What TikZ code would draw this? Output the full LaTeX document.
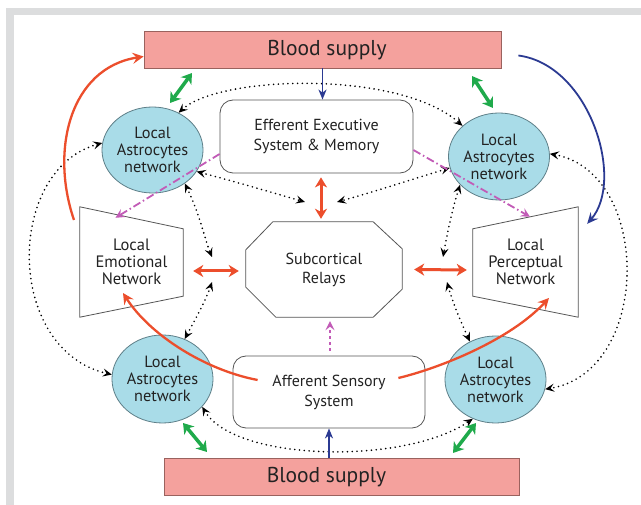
\documentclass[tikz,border=0pt]{standalone}
\usepackage{fontspec}
\setmainfont{PT Sans}
\usetikzlibrary{arrows.meta,shapes.geometric,calc}
\definecolor{framegray}{HTML}{DCDDDE}
\definecolor{salmon}{HTML}{F4A19D}
\definecolor{salmonline}{HTML}{9A625E}
\definecolor{astro}{HTML}{A9DCE8}
\definecolor{astroline}{HTML}{5E7F88}
\definecolor{boxline}{HTML}{555555}
\definecolor{redc}{HTML}{EC4E2C}
\definecolor{greenc}{HTML}{1FAA4B}
\definecolor{bluec}{HTML}{2B3A92}
\definecolor{magc}{HTML}{C25BB7}
\definecolor{txt}{HTML}{222222}
\begin{document}
\begin{tikzpicture}[x=1pt,y=-1pt,
  blood/.style={draw=salmonline,line width=0.8pt,fill=salmon,minimum height=37pt,inner sep=0pt},
  bloodtext/.style={font=\fontsize{21.5}{24}\selectfont,text=txt},
  roundbox/.style={draw=boxline,line width=0.8pt,rounded corners=13pt,fill=white,align=center,
     font=\fontsize{16}{20}\selectfont,text=txt,inner sep=0pt},
  astrocyte/.style={ellipse,draw=astroline,line width=0.8pt,fill=astro,align=center,
     font=\fontsize{16.3}{17}\selectfont,text=txt,inner sep=0pt},
  plainbox/.style={align=center,font=\fontsize{16.5}{17}\selectfont,text=txt,inner sep=0pt},
  outline/.style={draw=boxline,line width=0.8pt},
  dotarr/.style={draw=black,line width=1.8pt,dash pattern=on 0pt off 4.8pt,line cap=round,
     {Stealth[length=9pt,width=8pt,inset=3.5pt]}-{Stealth[length=9pt,width=8pt,inset=3.5pt]}},
  redbi/.style={draw=redc,line width=3pt,{Stealth[length=10pt,width=12pt,inset=3pt]}-{Stealth[length=10pt,width=12pt,inset=3pt]}},
  redcurve/.style={draw=redc,line width=2.3pt,-{Stealth[length=11pt,width=11pt,inset=4pt]}},
  greenbi/.style={draw=greenc,line width=3.5pt,{Stealth[length=10pt,width=13pt,inset=3pt]}-{Stealth[length=10pt,width=13pt,inset=3pt]}},
  bluearr/.style={draw=bluec,line width=1.4pt,-{Stealth[length=10pt,width=8pt,inset=3pt]}},
  bluecurve/.style={draw=bluec,line width=1.8pt,-{Stealth[length=11pt,width=10pt,inset=4pt]}},
  magarr/.style={draw=magc,line width=1.8pt,dash pattern=on 8pt off 3pt on 1.5pt off 3pt,
     -{Stealth[length=9pt,width=9pt,inset=3.5pt]}},
  magdot/.style={draw=magc,line width=1.8pt,dash pattern=on 3pt off 3pt,
     -{Stealth[length=9pt,width=9pt,inset=3.5pt]}}
]
\useasboundingbox (0,0) rectangle (641,505);
\fill[framegray] (6,8) rectangle (641,505);
\fill[white] (14,15) rectangle (641,505);

% blood supply
\node[blood,minimum width=357pt] (bt) at (322.5,49.5) {};
\node[bloodtext] (btt) at (327,50) {Blood supply};
\node[blood,minimum width=355pt] (bb) at (341.5,476.5) {};
\node[bloodtext] (bbt) at (326.5,477.5) {Blood supply};

% boxes
\node[roundbox,minimum width=193pt,minimum height=73pt] (eff) at (316.5,136.5) {Efferent Executive\\System \& Memory};
\node[roundbox,minimum width=192pt,minimum height=72pt] (aff) at (329,392) {Afferent Sensory\\System};

% subcortical octagon
\node[plainbox,minimum width=156pt,minimum height=95pt,font=\fontsize{16}{19}\selectfont] (sub) at (324,269.5) {Subcortical\\Relays};
\draw[outline] ([xshift=27pt]sub.north west) -- ([xshift=-29pt]sub.north east)
  -- ([yshift=-27pt]sub.north east) -- ([yshift=28pt]sub.south east)
  -- ([xshift=-29pt]sub.south east) -- ([xshift=30pt]sub.south west)
  -- ([yshift=30pt]sub.south west) -- ([yshift=-28pt]sub.north west) -- cycle;

% trapezoids
\node[plainbox,minimum width=103pt,minimum height=110pt] (emo) at (131.5,262) {Local\\Emotional\\Network};
\draw[outline] (emo.north west) -- ([yshift=-22pt]emo.north east) -- ([yshift=21pt]emo.south east) -- (emo.south west) -- cycle;
\node[plainbox,minimum width=105pt,minimum height=110pt] (per) at (525.5,262) {Local\\Perceptual\\Network};
\draw[outline] ([yshift=-22pt]per.north west) -- (per.north east) -- (per.south east) -- ([yshift=21pt]per.south west) -- cycle;

% astrocytes
\node[astrocyte,minimum width=97pt,minimum height=86pt] (atl) at (152.5,150) {Local\\Astrocytes\\network};
\node[astrocyte,minimum width=96pt,minimum height=87pt] (atr) at (499,156.5) {Local\\Astrocytes\\network};
\node[astrocyte,minimum width=95pt,minimum height=88pt] (abl) at (162.5,379) {Local\\Astrocytes\\network};
\node[astrocyte,minimum width=95pt,minimum height=87pt] (abr) at (495.5,379.5) {Local\\Astrocytes\\network};

% free ends
\coordinate (e1) at (305,202);
\coordinate (f1) at (337,202);
\coordinate (g1) at (212,257);
\coordinate (h1) at (212,282);
\coordinate (i1) at (443,257);
\coordinate (j1) at (447,282);
\coordinate (gA1) at (170,103); \coordinate (gA2) at (192,73);
\coordinate (gB1) at (472,76);  \coordinate (gB2) at (493,108);
\coordinate (gC1) at (183,423); \coordinate (gC2) at (207,452);
\coordinate (gD1) at (453,453); \coordinate (gD2) at (476,423);
\coordinate (rl) at (74,220);

% dotted black double arrows
\draw[dotarr] (atl.55) .. controls (220,75) and (400,70) .. (atr.140);
\draw[dotarr] (abl.-35) .. controls (235,462) and (405,465) .. (abr.-120);
\draw[dotarr] (atl.172) .. controls (5,170) and (5,350) .. (abl.175);
\draw[dotarr] (atr.3) .. controls (652,172) and (652,372) .. (abr.-11);
\draw[dotarr] (atl.-26) .. controls (240,183) and (270,192) .. (e1);
\draw[dotarr] (atr.-167) .. controls (410,180) and (370,193) .. (f1);
\draw[dotarr] (atl.-46) .. controls (200,215) and (205,240) .. (g1);
\draw[dotarr] (h1) .. controls (206,300) and (196,318) .. (abl.61);
\draw[dotarr] (atr.-144) .. controls (452,210) and (447,235) .. (i1);
\draw[dotarr] (j1) .. controls (452,300) and (459,318) .. (abr.124);

% red double arrows
\draw[redbi] ([yshift=-4pt]eff.south -| sub.north) ++(-3pt,0) -- ([xshift=-3pt,yshift=3pt]sub.north);
\draw[redbi] ([xshift=10pt,yshift=-9pt]emo.east) -- ([xshift=-7pt,yshift=-1.5pt]sub.west);
\draw[redbi] ([xshift=12pt]sub.east) -- ([xshift=-6pt,yshift=-8pt]per.west);

% red curves
\draw[redcurve] (rl) .. controls (50,150) and (70,68) .. ([yshift=-7pt]bt.west);
\draw[redcurve] ([xshift=25pt,yshift=12pt]aff.west) .. controls (205,370) and (150,335) .. ([xshift=-8.5pt,yshift=-31pt]emo.center);
\draw[redcurve] ([xshift=-27pt,yshift=14pt]aff.east) .. controls (440,368) and (510,340) .. ([xshift=23.5pt,yshift=-36pt]per.center);

% green double arrows
\draw[greenbi] (gA1) -- (gA2);
\draw[greenbi] (gB1) -- (gB2);
\draw[greenbi] (gC1) -- (gC2);
\draw[greenbi] (gD1) -- (gD2);

% blue arrows
\draw[bluearr] (bt.south) -- (eff.north -| bt.south);
\draw[bluearr] (bb.north -| aff.south) -- (aff.south);
\draw[bluecurve] ([xshift=17pt,yshift=-6pt]bt.east) .. controls (590,65) and (625,180) .. ([xshift=9pt,yshift=-17pt]per.north east);

% magenta dash-dot
\draw[magarr] ([yshift=-17.5pt]eff.west) -- ([xshift=-16pt,yshift=-11pt]emo.north);
\draw[magarr] ([yshift=-13.5pt]eff.east) -- ([xshift=4.5pt,yshift=-10pt]per.north);
\draw[magdot] ([xshift=1pt,yshift=5pt]aff.north) -- ([xshift=1pt,yshift=-4pt]sub.south -| aff.north);
\end{tikzpicture}
\end{document}
